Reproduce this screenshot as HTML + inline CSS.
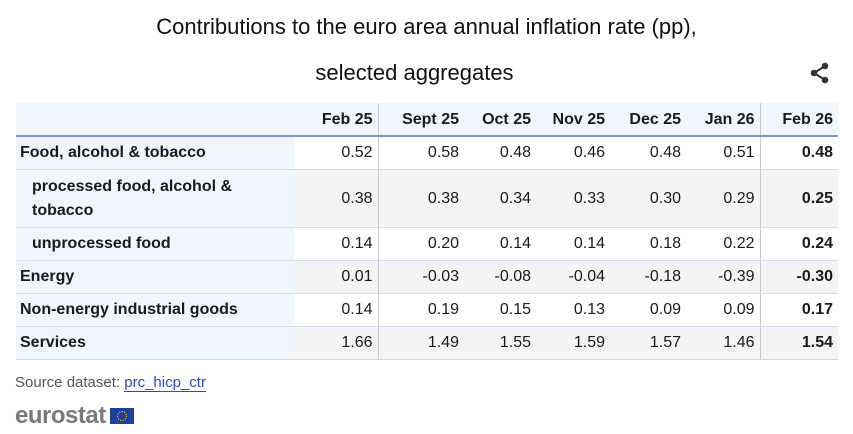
<!DOCTYPE html>
<html><head><meta charset="utf-8"><style>
body{margin:0;width:853px;height:434px;background:#fff;font-family:"Liberation Sans",Arial,sans-serif;color:#1a1a1a;position:relative;overflow:hidden}
.t{position:absolute;left:0;width:853px;text-align:center;font-size:22px;color:#111}
table{position:absolute;left:16px;top:103px;border-collapse:collapse;font-size:16px;table-layout:fixed}
td,th{padding:0 5px 0 0;text-align:right;border-bottom:1px solid #d3ddf2;height:32px}
th{background:#f1f5fd;font-weight:bold;border-bottom:2px solid #7a93dc;height:31px;padding-top:1px}
td.l{background:#f1f5fd;text-align:left;font-weight:bold;padding-left:4px}
td.l.i{padding-left:16px;line-height:24px}
tr.g td{background:#f3f4f3}
tr.g td.l{background:#f1f5fd}
.v{border-right:1px solid #c9c9c9}
td.b{font-weight:bold}
</style></head><body>
<div class="t" style="top:14px">Contributions to the euro area annual inflation rate (pp),</div>
<div class="t" style="top:60px;left:-12px">selected aggregates</div>
<svg style="position:absolute;left:809px;top:62px" width="22" height="22" viewBox="0 0 22 22"><circle cx="16" cy="4" r="3.3" fill="#333"/><circle cx="5" cy="11" r="3.3" fill="#333"/><circle cx="16" cy="18" r="3.3" fill="#333"/><path d="M16 4L5 11L16 18" stroke="#333" stroke-width="2" fill="none"/></svg>
<table>
<colgroup><col style="width:278px"><col style="width:84px"><col style="width:86px"><col style="width:72px"><col style="width:74px"><col style="width:76px"><col style="width:74px"><col style="width:78px"></colgroup>
<tr><th></th><th class="v">Feb 25</th><th>Sept 25</th><th>Oct 25</th><th>Nov 25</th><th>Dec 25</th><th class="v">Jan 26</th><th>Feb 26</th></tr>
<tr><td class="l">Food, alcohol &amp; tobacco</td><td class="v">0.52</td><td>0.58</td><td>0.48</td><td>0.46</td><td>0.48</td><td class="v">0.51</td><td class="b">0.48</td></tr>
<tr class="g"><td class="l i" style="height:57px">processed food, alcohol &amp;<br>tobacco</td><td class="v">0.38</td><td>0.38</td><td>0.34</td><td>0.33</td><td>0.30</td><td class="v">0.29</td><td class="b">0.25</td></tr>
<tr><td class="l i">unprocessed food</td><td class="v">0.14</td><td>0.20</td><td>0.14</td><td>0.14</td><td>0.18</td><td class="v">0.22</td><td class="b">0.24</td></tr>
<tr class="g"><td class="l">Energy</td><td class="v">0.01</td><td>-0.03</td><td>-0.08</td><td>-0.04</td><td>-0.18</td><td class="v">-0.39</td><td class="b">-0.30</td></tr>
<tr><td class="l">Non-energy industrial goods</td><td class="v">0.14</td><td>0.19</td><td>0.15</td><td>0.13</td><td>0.09</td><td class="v">0.09</td><td class="b">0.17</td></tr>
<tr class="g"><td class="l">Services</td><td class="v">1.66</td><td>1.49</td><td>1.55</td><td>1.59</td><td>1.57</td><td class="v">1.46</td><td class="b">1.54</td></tr>
</table>
<div style="position:absolute;left:15px;top:374px;font-size:15px;color:#555">Source dataset: <span style="color:#2a4bbf;border-bottom:1px solid #2a4bbf">prc_hicp_ctr</span></div>
<div style="position:absolute;left:15px;top:402px;font-size:24px;font-weight:bold;color:#7a7a7a;letter-spacing:-0.5px">eurostat</div>
<svg style="position:absolute;left:110px;top:408px" width="24" height="16"><rect width="24" height="16" fill="#1f3fa0"/><circle cx="12" cy="8" r="4.5" fill="none" stroke="#e8c020" stroke-width="1.2" stroke-dasharray="1.2 1.4"/></svg>
</body></html>
